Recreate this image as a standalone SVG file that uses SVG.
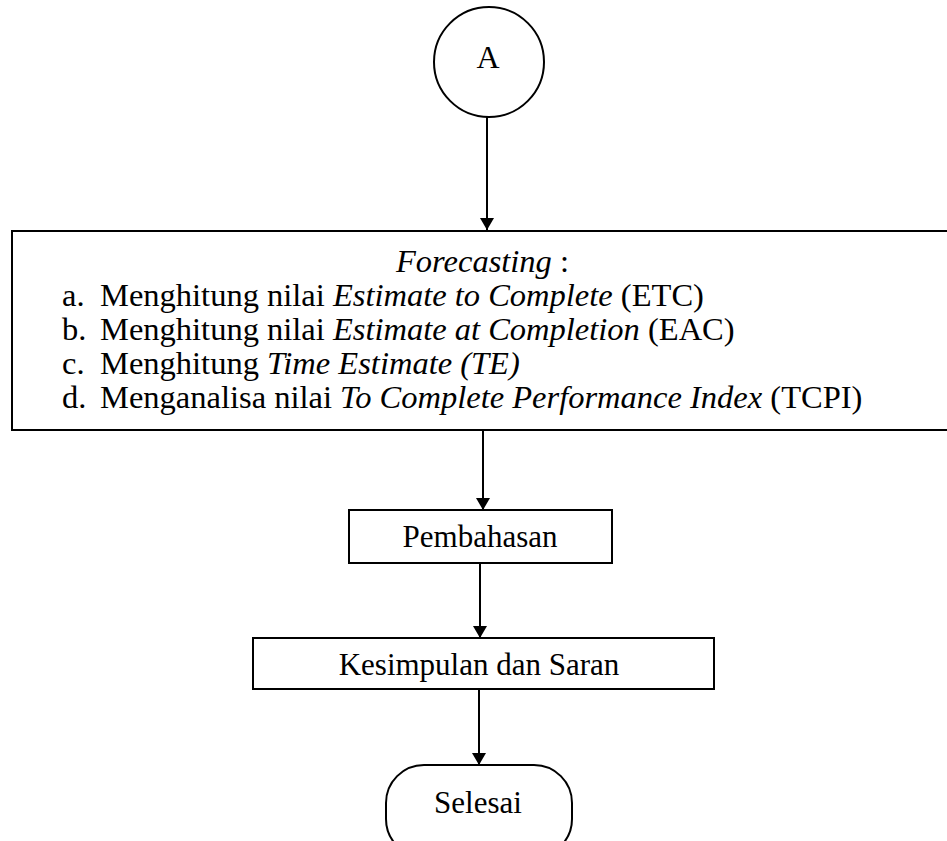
<svg xmlns="http://www.w3.org/2000/svg" width="947" height="841" viewBox="0 0 947 841">
<defs>
<style>
.s{fill:none;stroke:#000;stroke-width:2}
.t{font-family:"Liberation Serif","Times New Roman",serif;fill:#000}
.i{font-style:italic}
.c{stroke:#000;stroke-width:2;fill:none}
</style>
<marker id="ah" viewBox="0 0 12 14" refX="12" refY="7" markerWidth="12" markerHeight="14" markerUnits="userSpaceOnUse" orient="auto">
<path d="M0,0 L12,7 L0,14 Z" fill="#000"/>
</marker>
</defs>
<rect width="947" height="841" fill="#fff"/>
<g id="connector-lines">
<line class="c" x1="487" y1="117" x2="487" y2="230" marker-end="url(#ah)"/>
<line class="c" x1="483" y1="430" x2="483" y2="510" marker-end="url(#ah)"/>
<line class="c" x1="480" y1="563" x2="480" y2="638" marker-end="url(#ah)"/>
<line class="c" x1="479" y1="689" x2="479" y2="765" marker-end="url(#ah)"/>
</g>
<g id="node-A">
<circle class="s" cx="489" cy="62" r="55"/>
<text class="t" x="488" y="68" font-size="32" text-anchor="middle">A</text>
</g>
<g id="node-forecasting">
<rect class="s" x="12" y="231" width="937" height="199"/>
<text class="t" font-size="32.5">
<tspan x="396" y="272"><tspan class="i">Forecasting</tspan> :</tspan>
<tspan x="62" y="306">a.</tspan><tspan x="100" y="306">Menghitung nilai <tspan class="i">Estimate to Complete</tspan> (ETC)</tspan>
<tspan x="62" y="340">b.</tspan><tspan x="100" y="340">Menghitung nilai <tspan class="i">Estimate at Completion</tspan> (EAC)</tspan>
<tspan x="62" y="374">c.</tspan><tspan x="100" y="374">Menghitung <tspan class="i">Time Estimate (TE)</tspan></tspan>
<tspan x="62" y="408">d.</tspan><tspan x="100" y="408">Menganalisa nilai <tspan class="i">To Complete Performance Index</tspan> (TCPI)</tspan>
</text>
</g>
<g id="node-pembahasan">
<rect class="s" x="349" y="510" width="263" height="53"/>
<text class="t" x="480" y="547" font-size="31" text-anchor="middle">Pembahasan</text>
</g>
<g id="node-kesimpulan">
<rect class="s" x="253" y="638" width="461" height="51"/>
<text class="t" x="479" y="675" font-size="31" text-anchor="middle">Kesimpulan dan Saran</text>
</g>
<g id="node-selesai">
<rect class="s" x="386" y="765" width="186" height="92" rx="38" ry="38"/>
<text class="t" x="478" y="813" font-size="31" text-anchor="middle">Selesai</text>
</g>
</svg>
